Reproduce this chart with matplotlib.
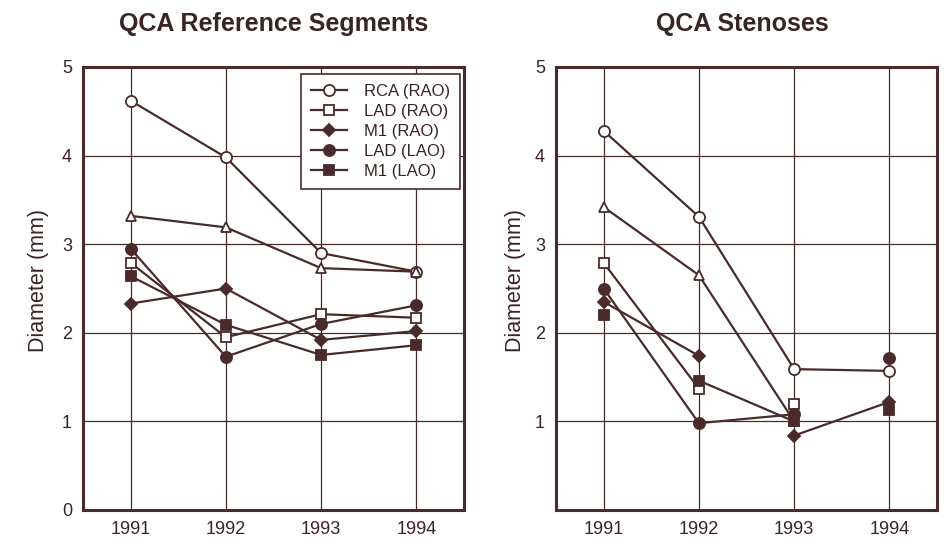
import numpy as np
import matplotlib
matplotlib.use('Agg')
import matplotlib.pyplot as plt

plt.rcParams['font.family'] = ['Liberation Sans', 'DejaVu Sans']

years = [1991, 1992, 1993, 1994]

# QCA reference segments (mm)
ref_rca_rao = [4.62, 3.98, 2.90, 2.69]
ref_rca_lao = [3.32, 3.19, 2.73, 2.69]
ref_lad_rao = [2.79, 1.95, 2.21, 2.17]
ref_m1_rao = [2.33, 2.50, 1.92, 2.02]
ref_lad_lao = [2.95, 1.73, 2.10, 2.31]
ref_m1_lao = [2.64, 2.09, 1.75, 1.86]

# QCA stenoses (mm)
sten_rca_rao = [4.28, 3.31, 1.59, 1.57]
sten_rca_lao = [3.42, 2.65, 1.00, np.nan]
sten_lad_rao = [2.79, 1.37, 1.20, np.nan]
sten_m1_rao = [2.35, 1.74, 0.84, 1.22]
sten_lad_lao = [2.50, 0.98, 1.08, 1.72]
sten_m1_lao = [2.20, 1.46, 1.00, 1.13]

# segments not joined in the stenoses panel (index of the year after which the line breaks)
sten_breaks = {"LAD (RAO)": [1], "M1 (RAO)": [1], "LAD (LAO)": [2], "M1 (LAO)": [0, 2]}

legend_labels = ["RCA (RAO)", "LAD (RAO)", "M1 (RAO)", "LAD (LAO)", "M1 (LAO)"]

ink = "#4a2b2b"
text_col = "#3a2424"

styles = {
    "RCA (RAO)": dict(marker="o", ms=8, mfc="white"),
    "RCA (LAO)": dict(marker="^", ms=7.5, mfc="white"),
    "LAD (RAO)": dict(marker="s", ms=7, mfc="white"),
    "M1 (RAO)": dict(marker="D", ms=6.5, mfc=ink),
    "LAD (LAO)": dict(marker="o", ms=8, mfc=ink),
    "M1 (LAO)": dict(marker="s", ms=7.5, mfc=ink),
}


def style_axes(ax, show_zero, label_x):
    ax.set_xlim(1990.5, 1994.5)
    ax.set_ylim(0, 5)
    ax.set_xticks(years)
    ax.set_yticks([0, 1, 2, 3, 4, 5] if show_zero else [1, 2, 3, 4, 5])
    ax.grid(True, color=ink, lw=0.9)
    ax.set_axisbelow(True)
    ax.tick_params(length=0, labelsize=13, colors=text_col, pad=8)
    for sp in ax.spines.values():
        sp.set_color(ink)
        sp.set_linewidth(2.2)
    ax.set_ylabel("Diameter (mm)", fontsize=15.5, color=text_col)
    ax.yaxis.set_label_coords(label_x, 0.517)


def draw(ax, series, breaks=None):
    breaks = breaks or {}
    for name, vals in series:
        st = styles[name]
        label = name if name in legend_labels else "_nolegend_"
        xs, ys = [], []
        for i, (x, y) in enumerate(zip(years, vals)):
            xs.append(x)
            ys.append(y)
            if i in breaks.get(name, []):
                xs.append(np.nan)
                ys.append(np.nan)
        ax.plot(xs, ys, color=ink, lw=1.6, zorder=3)
        ax.plot(years, vals, ls="none", color=ink, mec=ink, mew=1.3,
                zorder=4, **st)
        # legend proxy
        ax.plot([], [], color=ink, lw=1.6, mec=ink, mew=1.3, label=label, **st)


fig = plt.figure(figsize=(9.51, 5.51), dpi=100)
fig.patch.set_facecolor("white")

ax1 = fig.add_axes([83 / 951, 1 - 510 / 551, 381 / 951, 443 / 551])
ax2 = fig.add_axes([556 / 951, 1 - 510 / 551, 381 / 951, 443 / 551])

style_axes(ax1, True, -0.088)
style_axes(ax2, False, -0.078)

draw(ax1, [("RCA (RAO)", ref_rca_rao), ("RCA (LAO)", ref_rca_lao),
           ("LAD (RAO)", ref_lad_rao), ("M1 (RAO)", ref_m1_rao),
           ("LAD (LAO)", ref_lad_lao), ("M1 (LAO)", ref_m1_lao)])
draw(ax2, [("RCA (RAO)", sten_rca_rao), ("RCA (LAO)", sten_rca_lao),
           ("LAD (RAO)", sten_lad_rao), ("M1 (RAO)", sten_m1_rao),
           ("LAD (LAO)", sten_lad_lao), ("M1 (LAO)", sten_m1_lao)],
     sten_breaks)

handles, labels = ax1.get_legend_handles_labels()
order = [labels.index(l) for l in legend_labels]
leg = ax1.legend([handles[i] for i in order], [labels[i] for i in order],
                 loc="upper right", bbox_to_anchor=(0.99, 0.985),
                 borderaxespad=0, fontsize=12, handlelength=2.2,
                 handletextpad=1.0, labelspacing=0.3, fancybox=False,
                 framealpha=1, edgecolor=ink, borderpad=0.6)
leg.get_frame().set_linewidth(1.2)
for t in leg.get_texts():
    t.set_color(text_col)

fig.text(274 / 951, 1 - 24 / 551, "QCA Reference Segments", ha="center",
         va="center", fontsize=18, fontweight="bold", color=text_col)
fig.text(742 / 951, 1 - 24 / 551, "QCA Stenoses", ha="center",
         va="center", fontsize=18, fontweight="bold", color=text_col)

fig.savefig("out.png", dpi=100)
